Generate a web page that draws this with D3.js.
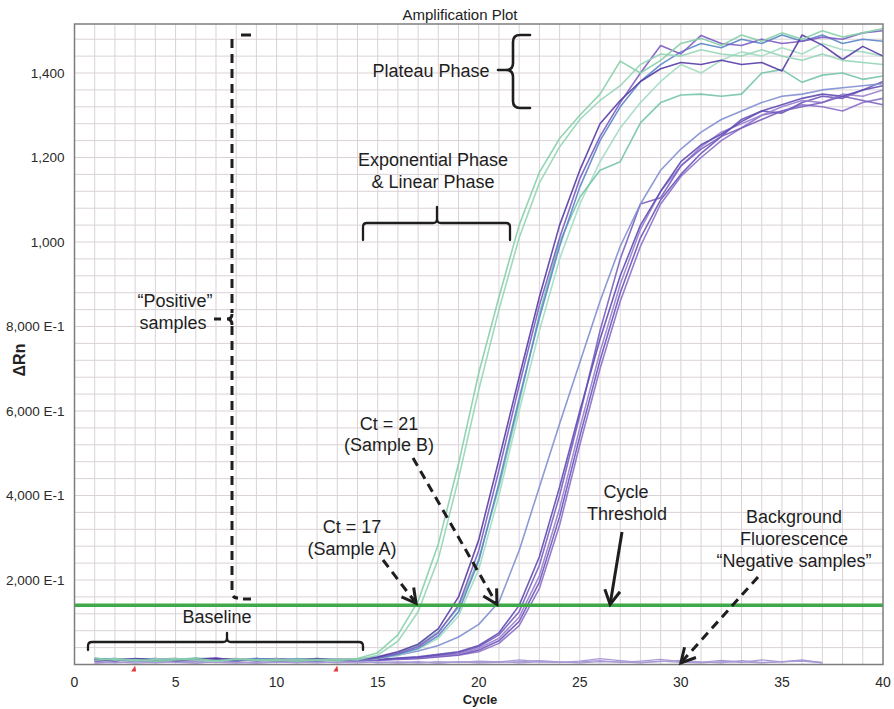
<!DOCTYPE html>
<html>
<head>
<meta charset="utf-8">
<script src="https://cdn.jsdelivr.net/npm/d3@7"></script>
<style>
  body { margin: 0; background: #fff; }
  svg { display: block; font-family: "Liberation Sans", Arial, Helvetica, sans-serif; }
</style>
</head>
<body>
<svg id="chart" width="894" height="709"></svg>
<script>
// ---- data -------------------------------------------------------------
const cycles = [1,2,3,4,5,6,7,8,9,10,11,12,13,14,15,16,17,18,19,20,
                21,22,23,24,25,26,27,28,29,30,31,32,33,34,35,36,37,38,39,40];
const xTicks = [0, 5, 10, 15, 20, 25, 30, 35, 40];
const yTicks = [200, 400, 600, 800, 1000, 1200, 1400];
const yTickLabels = ["2,000 E-1", "4,000 E-1", "6,000 E-1", "8,000 E-1", "1,000", "1,200", "1,400"];
const threshold = 140;
const baselineCycles = [3, 13];

// positive samples, delta Rn per cycle
const greenA1 = [15,10,12,8,11,14,9,12,10,13,8,11,9,14,28,70,150,285,475,690,870,1040,1165,1245,1300,1350,1428,1400,1430,1470,1482,1465,1490,1475,1495,1480,1500,1485,1495,1505];
const greenA2 = [10,13,9,12,14,10,8,13,11,9,12,10,13,11,22,55,125,250,440,650,840,1010,1140,1225,1290,1335,1370,1420,1445,1440,1455,1445,1440,1455,1440,1430,1445,1430,1425,1420];
const purple1 = [12,9,14,11,10,13,15,10,12,9,11,13,10,12,18,30,48,85,160,295,485,680,870,1040,1170,1280,1335,1380,1410,1425,1420,1430,1420,1425,1405,1490,1466,1432,1463,1440];
const purple2 = [8,11,13,9,12,10,14,11,9,13,10,12,11,9,16,26,42,75,140,270,460,660,850,1010,1150,1250,1330,1400,1465,1445,1489,1470,1465,1480,1470,1475,1485,1480,1495,1500];
const blue1   = [14,11,9,12,13,10,12,9,14,11,13,9,12,10,15,24,38,68,125,245,430,630,820,990,1130,1240,1320,1380,1420,1450,1470,1460,1480,1470,1490,1475,1490,1470,1480,1475];
const green3  = [11,14,10,9,12,15,11,13,10,9,12,14,10,13,17,27,45,78,135,250,420,620,830,1000,1106,1170,1190,1282,1330,1348,1350,1345,1350,1400,1408,1378,1395,1400,1385,1393];
const green4  = [9,12,11,14,10,12,9,11,13,10,14,11,9,12,14,22,36,62,115,225,400,600,790,960,1090,1190,1270,1330,1380,1420,1400,1430,1450,1440,1460,1445,1470,1455,1450,1440];
const sampleB = [10,13,12,9,11,14,10,12,9,13,11,10,12,9,14,22,32,45,65,95,148,270,420,570,715,860,990,1090,1170,1220,1260,1290,1310,1330,1345,1350,1360,1365,1370,1375];
const late1   = [13,10,12,14,9,11,13,10,12,14,9,12,10,11,12,15,18,24,30,45,75,140,255,420,600,770,920,1040,1120,1190,1230,1255,1285,1310,1325,1340,1350,1345,1360,1370];
const late2   = [11,9,13,12,10,14,12,9,11,13,10,9,12,13,11,14,17,22,28,42,70,125,235,400,590,790,960,1090,1105,1180,1220,1250,1270,1290,1310,1320,1330,1345,1335,1325];
const late3   = [12,14,10,11,13,9,12,14,10,11,13,12,9,10,10,13,16,20,25,38,62,112,210,370,560,740,900,1030,1120,1180,1225,1260,1280,1300,1320,1335,1330,1350,1345,1360];
const late4   = [9,12,11,13,14,10,11,9,13,12,10,14,11,12,11,13,15,19,23,34,56,102,195,350,540,720,880,1010,1100,1160,1210,1250,1290,1310,1305,1330,1345,1340,1360,1380];
const late5   = [14,11,10,12,9,13,11,12,14,10,12,11,13,10,10,12,14,18,22,30,50,92,180,330,520,700,860,990,1090,1155,1200,1240,1270,1300,1310,1325,1320,1310,1330,1340];

// negative samples (no amplification), cycles 1..37
const negative1 = [4,6,3,5,7,4,6,5,3,6,4,7,5,4,6,3,5,4,6,5,7,4,6,5,8,14,9,5,7,10,6,4,9,5,6,11,4];
const negative2 = [7,4,6,8,5,3,7,6,4,5,8,6,4,7,5,6,4,7,5,8,6,11,7,5,6,9,5,8,12,7,5,10,6,4,7,9,5];
const negative3 = [3,5,7,4,6,8,5,3,6,7,5,4,6,8,4,5,7,3,6,4,5,7,9,6,4,7,6,4,8,5,4,7,5,11,6,8,4];

// ---- styles -------------------------------------------------------------
const positives = [
  { values: late5,   color: "#8b6fc9" },
  { values: late4,   color: "#6b55b8" },
  { values: late3,   color: "#9a80d0" },
  { values: late2,   color: "#7a5fc0" },
  { values: late1,   color: "#5f4db4" },
  { values: sampleB, color: "#7f8fd2" },
  { values: green4,  color: "#a2dcc2" },
  { values: green3,  color: "#74c4aa" },
  { values: blue1,   color: "#5b86c8" },
  { values: purple2, color: "#7d5cc2" },
  { values: purple1, color: "#563ca6" },
  { values: greenA2, color: "#93d5b6" },
  { values: greenA1, color: "#86cfa9" }
];
const negatives = [negative1, negative2, negative3];

// ---- layout -------------------------------------------------------------
const svg = d3.select("#chart");
const plotLeft = 74.5, plotRight = 883, plotTop = 24, plotBottom = 664.5;

const x = d3.scaleLinear().domain([0, 40]).range([plotLeft, plotRight]);
const y = d3.scaleLinear().domain([0, 1516]).range([plotBottom, plotTop]);

svg.append("rect").attr("width", 894).attr("height", 709).attr("fill", "#fff");

svg.append("defs").append("clipPath").attr("id", "plot-clip")
  .append("rect").attr("x", plotLeft).attr("y", plotTop)
  .attr("width", plotRight - plotLeft).attr("height", plotBottom - plotTop);

// grid: one line per cycle, one every 40 units
const grid = svg.append("g").attr("stroke", "#dad2d7").attr("stroke-width", 1);
grid.selectAll("line.v").data(d3.range(1, 40)).join("line")
  .attr("x1", d => x(d)).attr("x2", d => x(d))
  .attr("y1", plotTop).attr("y2", plotBottom);
grid.selectAll("line.h").data(d3.range(40, 1516, 40)).join("line")
  .attr("y1", d => y(d)).attr("y2", d => y(d))
  .attr("x1", plotLeft).attr("x2", plotRight);

// amplification curves
const line = d3.line().x((d, i) => x(cycles[i])).y(d => y(d));
const curves = svg.append("g").attr("clip-path", "url(#plot-clip)")
  .attr("fill", "none").attr("stroke-linejoin", "round");

curves.selectAll("path.neg").data(negatives).join("path")
  .attr("d", line).attr("stroke", "#a99ad6").attr("stroke-width", 1.2);

curves.selectAll("path.pos").data(positives).join("path")
  .attr("d", d => line(d.values))
  .attr("stroke", d => d.color).attr("stroke-width", 1.6).attr("stroke-opacity", 0.9);

// threshold
svg.append("line")
  .attr("x1", plotLeft).attr("x2", plotRight)
  .attr("y1", y(threshold)).attr("y2", y(threshold))
  .attr("stroke", "#3fa94a").attr("stroke-width", 3.5);

// frame
svg.append("rect").attr("x", plotLeft).attr("y", plotTop)
  .attr("width", plotRight - plotLeft).attr("height", plotBottom - plotTop)
  .attr("fill", "none").attr("stroke", "#7d7d7d").attr("stroke-width", 1.5);

// baseline range markers
svg.selectAll("path.mark").data(baselineCycles).join("path")
  .attr("d", d => `M${x(d)},${plotBottom + 1} l-4,6 l5,0 z`)
  .attr("fill", "#e23b3b");

// axes labels
svg.append("g").selectAll("text").data(xTicks).join("text")
  .attr("x", d => x(d)).attr("y", 687)
  .attr("text-anchor", "middle").attr("font-size", 14).attr("fill", "#2a2a2a")
  .text(d => d);

svg.append("g").selectAll("text").data(yTicks).join("text")
  .attr("x", plotLeft - 10).attr("y", d => y(d)).attr("dy", "0.35em")
  .attr("text-anchor", "end").attr("font-size", 13.5).attr("fill", "#2a2a2a")
  .text((d, i) => yTickLabels[i]);

svg.append("text").attr("x", 460).attr("y", 20)
  .attr("text-anchor", "middle").attr("font-size", 15).attr("fill", "#222")
  .text("Amplification Plot");

svg.append("text").attr("x", 480).attr("y", 704)
  .attr("text-anchor", "middle").attr("font-size", 13).attr("font-weight", "bold").attr("fill", "#222")
  .text("Cycle");

svg.append("text").attr("transform", "translate(25,360) rotate(-90)")
  .attr("text-anchor", "middle").attr("font-size", 16).attr("font-weight", "bold").attr("fill", "#222")
  .text("ΔRn");

// ---- annotations ----------------------------------------------------------
const ink = "#1e1e1e";
const notes = svg.append("g").attr("fill", ink).attr("font-size", 18).attr("text-anchor", "middle");
function label(tx, ty, s) { notes.append("text").attr("x", tx).attr("y", ty).text(s); }

label(431, 77, "Plateau Phase");
label(433, 166, "Exponential Phase");
label(433, 188, "& Linear Phase");
label(389, 430, "Ct = 21");
label(389, 451, "(Sample B)");
label(352, 533, "Ct = 17");
label(352, 555, "(Sample A)");
label(626, 498, "Cycle");
label(627, 520, "Threshold");
label(794, 523, "Background");
label(794, 545, "Fluorescence");
label(794, 567, "\u201CNegative samples\u201D");
label(217, 623, "Baseline");
label(175, 307, "\u201CPositive\u201D");
label(173, 329, "samples");

const brackets = svg.append("g").attr("fill", "none").attr("stroke", ink)
  .attr("stroke-width", 2.3).attr("stroke-linecap", "round");

// plateau brace
brackets.append("path").attr("stroke-width", 2.6)
  .attr("d", "M530,35 H520 Q513,35 513,42 V63 Q513,70 506,70 H498 M506,70 Q513,70 513,77 V101 Q513,108 520,108 H530");
// exponential / linear bracket
brackets.append("path")
  .attr("d", "M363,240 V227 Q363,223 367,223 H433 Q437,223 437,219 V207 M437,219 Q437,223 441,223 H506 Q510,223 510,227 V240");
// baseline bracket
brackets.append("path")
  .attr("d", "M88,650 V646 Q88,642 92,642 H223 Q227,642 227,638 V633 M227,638 Q227,642 231,642 H359 Q363,642 363,646 V650");

// positive samples dashed brace
const dashed = svg.append("g").attr("fill", "none").attr("stroke", ink).attr("stroke-width", 3);
dashed.append("path").attr("stroke-dasharray", "9,6")
  .attr("d", "M232,39 V313");
dashed.append("path").attr("stroke-dasharray", "9,6")
  .attr("d", "M232,326 V592 Q232,598 238,598");
dashed.append("path").attr("d", "M241,35 H251");
dashed.append("path").attr("d", "M243,599 H251");
dashed.append("path").attr("d", "M232,314 Q232,319 227,319 Q232,319 232,325");
dashed.append("path").attr("d", "M214,319 H221");

// arrows pointing at the threshold line
function arrow(x0, y0, x1, y1, dash) {
  const g = svg.append("g").attr("fill", "none").attr("stroke", ink).attr("stroke-width", 3);
  g.append("line").attr("x1", x0).attr("y1", y0).attr("x2", x1).attr("y2", y1)
    .attr("stroke-dasharray", dash ? "9,6" : null);
  const dx = x0 - x1, dy = y0 - y1, len = Math.hypot(dx, dy);
  const ux = dx / len, uy = dy / len, L = 16, a = 0.5;
  const p1 = [x1 + L * (ux * Math.cos(a) - uy * Math.sin(a)), y1 + L * (ux * Math.sin(a) + uy * Math.cos(a))];
  const p2 = [x1 + L * (ux * Math.cos(-a) - uy * Math.sin(-a)), y1 + L * (ux * Math.sin(-a) + uy * Math.cos(-a))];
  g.append("path").attr("stroke-linejoin", "miter")
    .attr("d", `M${p1[0]},${p1[1]} L${x1},${y1} L${p2[0]},${p2[1]}`);
}
arrow(383, 560, x(16.9), y(threshold) - 2, true);
arrow(413, 458, x(20.9), y(threshold) - 1, true);
arrow(622, 532, x(26.5), y(threshold) - 1, false);
arrow(758, 577, x(30), y(4), true);
</script>
</body>
</html>
